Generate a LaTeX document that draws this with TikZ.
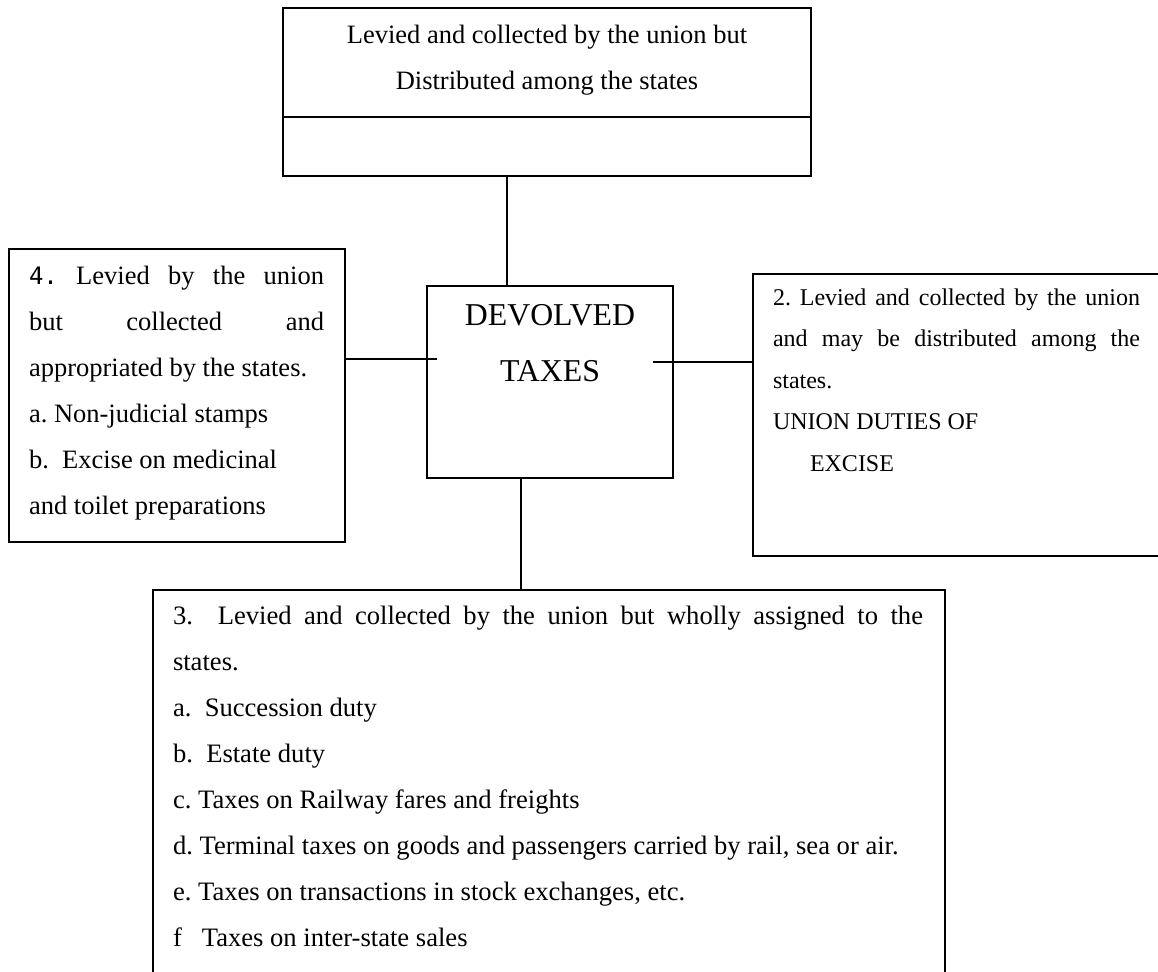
\documentclass[tikz,border=0pt]{standalone}
\usepackage{fontspec}
\setmainfont{Liberation Serif}
\newfontfamily\monof{DejaVu Sans Mono}
\frenchspacing
\begin{document}
\begin{tikzpicture}[x=0.5pt,y=-0.5pt,
  box/.style={draw, line width=1pt, inner sep=0pt, outer sep=0pt, anchor=north west},
  conn/.style={line width=0.9pt},
  txt/.style={inner sep=0pt, outer sep=0pt, anchor=north west, align=justify}]
\useasboundingbox (0,0) rectangle (1158,972);
\clip (0,0) rectangle (1158,972);
% boxes
\node[box, minimum width=264pt, minimum height=84pt] (tb) at (283,8) {};
\node[box, minimum width=123pt, minimum height=96pt] (cb) at (427,286) {};
\node[box, minimum width=168pt, minimum height=146.5pt] (lb) at (9,249) {};
\node[box, minimum width=211pt, minimum height=141pt] (rb) at (753,274) {};
\node[box, minimum width=396pt, minimum height=205pt] (bb) at (153,590) {};
% divider in top box
\coordinate (dv) at (547,117);
\draw[line width=1pt] (tb.west |- dv) -- (tb.east |- dv);
% texts
\node[anchor=north, align=center, inner sep=0pt, font=\fontsize{13.25}{23}\selectfont] (tt) at (547,10.8)
  {\strut Levied and collected by the union but\\ Distributed among the states};
\node[anchor=north, align=center, inner sep=0pt, font=\fontsize{15.9}{28}\selectfont] (ctx) at (550,285.8)
  {\strut DEVOLVED\\TAXES};
\node[txt, text width=147.5pt, font=\fontsize{13.25}{23}\selectfont] (lt) at (29,252.8)
  {\strut{\fontsize{12}{23}\selectfont\monof 4.}\ Levied by the union\linebreak but collected and\linebreak appropriated by the states.\par a. Non-judicial stamps\par b.\ \ Excise on medicinal\par and toilet preparations};
\node[txt, text width=183.5pt, font=\fontsize{12}{20.75}\selectfont] (rt) at (773,276)
  {\strut 2. Levied and collected by the union\linebreak and may be distributed among the\linebreak states.\par UNION DUTIES OF\par \hspace*{18.5pt}EXCISE};
\node[txt, text width=375pt, font=\fontsize{13.3}{23}\selectfont] (bt) at (173,592.8)
  {\strut 3.\ \ Levied and collected by the union but wholly assigned to the\linebreak states.\par a.\ \ Succession duty\par b.\ \ Estate duty\par c. Taxes on Railway fares and freights\par d. Terminal taxes on goods and passengers carried by rail, sea or air.\par e. Taxes on transactions in stock exchanges, etc.\par f\hspace{10pt}Taxes on inter-state sales};
% connectors
\coordinate (ctop) at (507,176);
\draw[conn] (ctop) -- (ctop |- cb.north);
\coordinate (cl) at (437,359);
\draw[conn] (lb.east |- cl) -- (cl);
\coordinate (cr) at (653,362);
\draw[conn] (cr) -- (cr -| rb.west);
\coordinate (cbot) at (521,478);
\draw[conn] (cbot) -- (cbot |- bb.north);
\end{tikzpicture}
\end{document}
